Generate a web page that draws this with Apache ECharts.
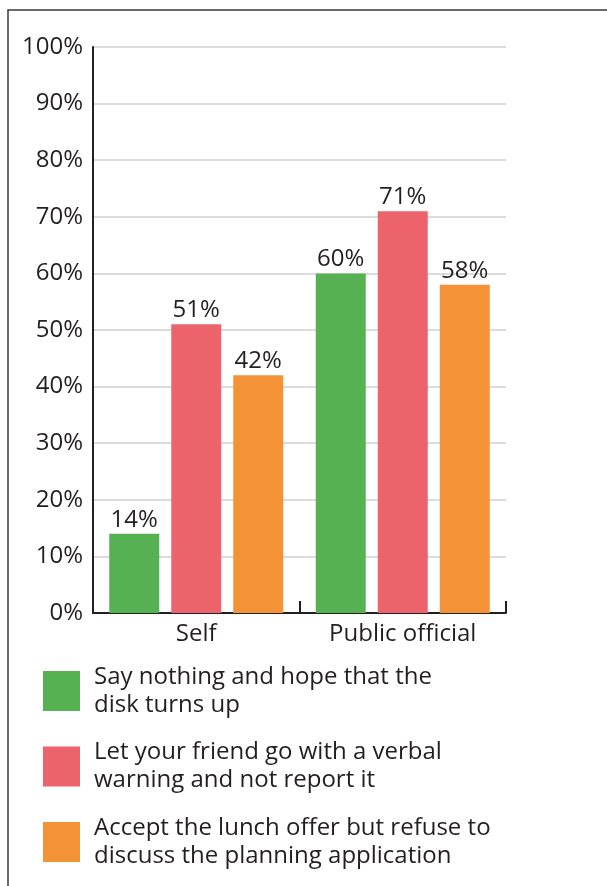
<!DOCTYPE html>
<html>
<head>
<meta charset="utf-8">
<style>
  html, body { margin: 0; padding: 0; background: #fff; }
  #chart { width: 607px; height: 886px; }
</style>
<script src="https://cdn.jsdelivr.net/npm/echarts@6/dist/echarts.min.js"></script>
</head>
<body>
<div id="chart"></div>
<script>
// Who is in the dilemma
const categories = ['Self', 'Public official'];

// Share choosing each response (%)
const sayNothing = [14, 60];
const verbalWarning = [51, 71];
const acceptLunch = [42, 58];

const seriesNames = [
  'Say nothing and hope that the\ndisk turns up',
  'Let your friend go with a verbal\nwarning and not report it',
  'Accept the lunch offer but refuse to\ndiscuss the planning application'
];
const seriesData = [sayNothing, verbalWarning, acceptLunch];
const colors = ['#56b152', '#ec636c', '#f39237'];

const FONT = '"Open Sans", "Noto Sans", sans-serif';
const TEXT = '#231f20';
const FS = 24;

const chart = echarts.init(document.getElementById('chart'), null, { renderer: 'canvas' });

chart.setOption({
  animation: false,
  backgroundColor: '#fff',
  textStyle: { fontFamily: FONT, color: TEXT },
  graphic: [{
    type: 'rect',
    shape: { x: 8, y: 10, width: 700, height: 900 },
    style: { fill: 'none', stroke: '#3a3a3a', lineWidth: 1.5 },
    silent: true
  }],
  grid: { left: 93, right: 101, top: 47, bottom: 273, containLabel: false },
  xAxis: {
    type: 'category',
    data: categories,
    axisLine: { lineStyle: { color: '#231f20', width: 2 } },
    axisTick: { show: true, inside: true, length: 12, lineStyle: { color: '#231f20', width: 2 } },
    axisLabel: { fontSize: FS, color: TEXT, fontFamily: FONT, margin: 9 }
  },
  yAxis: {
    type: 'value',
    min: 0, max: 100, interval: 10,
    axisLine: { show: true, lineStyle: { color: '#231f20', width: 2 } },
    axisTick: { show: false },
    splitLine: { lineStyle: { color: '#dcdcdc', width: 2 } },
    axisLabel: { formatter: '{value}%', fontSize: FS, color: TEXT, fontFamily: FONT, margin: 10 }
  },
  legend: {
    orient: 'vertical',
    left: 43, top: 660,
    height: 230,
    padding: 0,
    itemWidth: 37, itemHeight: 40,
    itemGap: 13.5,
    icon: 'rect',
    selectedMode: false,
    textStyle: { fontSize: FS, lineHeight: 28, color: TEXT, fontFamily: FONT, padding: [6, 0, 0, 9] },
    data: seriesNames
  },
  series: seriesData.map((d, i) => ({
    name: seriesNames[i],
    type: 'bar',
    data: d,
    barWidth: 50,
    barGap: '24%',
    itemStyle: { color: colors[i] },
    label: {
      show: true, position: 'top', distance: 2,
      formatter: '{c}%', fontSize: FS, color: TEXT, fontFamily: FONT
    }
  }))
});
</script>
</body>
</html>
